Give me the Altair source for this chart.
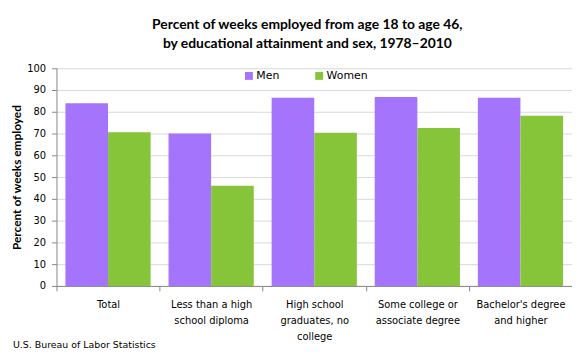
import altair as alt
import pandas as pd

categories = [
    "Total",
    "Less than a high school diploma",
    "High school graduates, no college",
    "Some college or associate degree",
    "Bachelor's degree and higher",
]
category_lines = [
    ["Total"],
    ["Less than  a high", "school diploma"],
    ["High school", "graduates, no", "college"],
    ["Some college or", "associate degree"],
    ["Bachelor's degree", "and higher"],
]
sexes = ["Men", "Women"]
men = [83.9, 70.0, 86.4, 86.8, 86.4]
women = [70.6, 46.0, 70.4, 72.6, 78.2]
colors = ["#a574fc", "#86c53a"]
y_ticks = list(range(0, 101, 10))

title_lines = [
    "Percent of weeks employed from age 18 to age 46,",
    "by educational attainment and sex, 1978\u20132010",
]
y_title = "Percent of weeks employed"
source = "U.S. Bureau of Labor Statistics"

rows = []
for c, m, w in zip(categories, men, women):
    rows.append({"category": c, "sex": "Men", "value": m})
    rows.append({"category": c, "sex": "Women", "value": w})
df = pd.DataFrame(rows)


def js_str(s):
    return "'" + s.replace("\\", "\\\\").replace("'", "\\'") + "'"


expr = "datum.label"
for c, lines in reversed(list(zip(categories, category_lines))):
    arr = "[" + ",".join(js_str(l) for l in lines) + "]"
    expr = f"datum.label == {js_str(c)} ? {arr} : ({expr})"

axis_gray = "#868686"

bars = alt.Chart(df).mark_bar().encode(
    x=alt.X(
        "category:N",
        sort=categories,
        scale=alt.Scale(paddingInner=0, paddingOuter=0),
        axis=alt.Axis(
            title=None,
            labelAngle=0,
            tickBand="extent",
            labelExpr=expr,
            labelFont="DejaVu Sans",
            labelFontSize=10,
            labelColor="#000000",
            labelLineHeight=16,
            labelBaseline="top",
            labelPadding=9,
            labelLimit=200,
            domainColor=axis_gray,
            tickColor=axis_gray,
            tickSize=5,
            grid=False,
        ),
    ),
    xOffset=alt.XOffset(
        "sex:N", sort=sexes, scale=alt.Scale(paddingInner=0, paddingOuter=0.21)
    ),
    y=alt.Y(
        "value:Q",
        scale=alt.Scale(domain=[0, 100], nice=False),
        axis=alt.Axis(
            values=y_ticks,
            title=y_title,
            titleFont="Lato",
            titleFontSize=12,
            titleFontWeight="bold",
            titleColor="#000000",
            titlePadding=3,
            labelFont="DejaVu Sans",
            labelFontSize=10,
            labelColor="#000000",
            labelPadding=6,
            domainColor=axis_gray,
            tickColor=axis_gray,
            tickSize=5,
            grid=True,
            gridColor="#d9d9d9",
        ),
    ),
    color=alt.Color(
        "sex:N",
        scale=alt.Scale(domain=sexes, range=colors),
        legend=alt.Legend(
            title=None,
            orient="none",
            legendX=189,
            legendY=2,
            direction="horizontal",
            symbolType="square",
            symbolSize=64,
            symbolStrokeWidth=0,
            symbolOffset=0,
            labelOffset=2,
            labelFont="DejaVu Sans",
            labelFontSize=11,
            labelColor="#000000",
            columnPadding=34,
        ),
    ),
)

src = alt.Chart(pd.DataFrame({"t": [source]})).mark_text(
    align="left", baseline="middle", font="DejaVu Sans", fontSize=9.5, color="#000000"
).encode(text="t:N", x=alt.value(-44), y=alt.value(280))

chart = (
    alt.layer(bars, src)
    .properties(
        width=521,
        height=220,
        padding={"left": 49, "top": 59, "right": 0, "bottom": 75},
        autosize=alt.AutoSizeParams(type="none"),
        background="#ffffff",
        title=alt.TitleParams(
            text=title_lines,
            font="Lato",
            fontSize=14,
            fontWeight="bold",
            color="#000000",
            anchor="middle",
            lineHeight=20,
            offset=12,
            dx=-7,
        ),
    )
    .configure_view(stroke=None)
)

chart.save("out.html", embed_options={"renderer": "svg", "actions": False})
